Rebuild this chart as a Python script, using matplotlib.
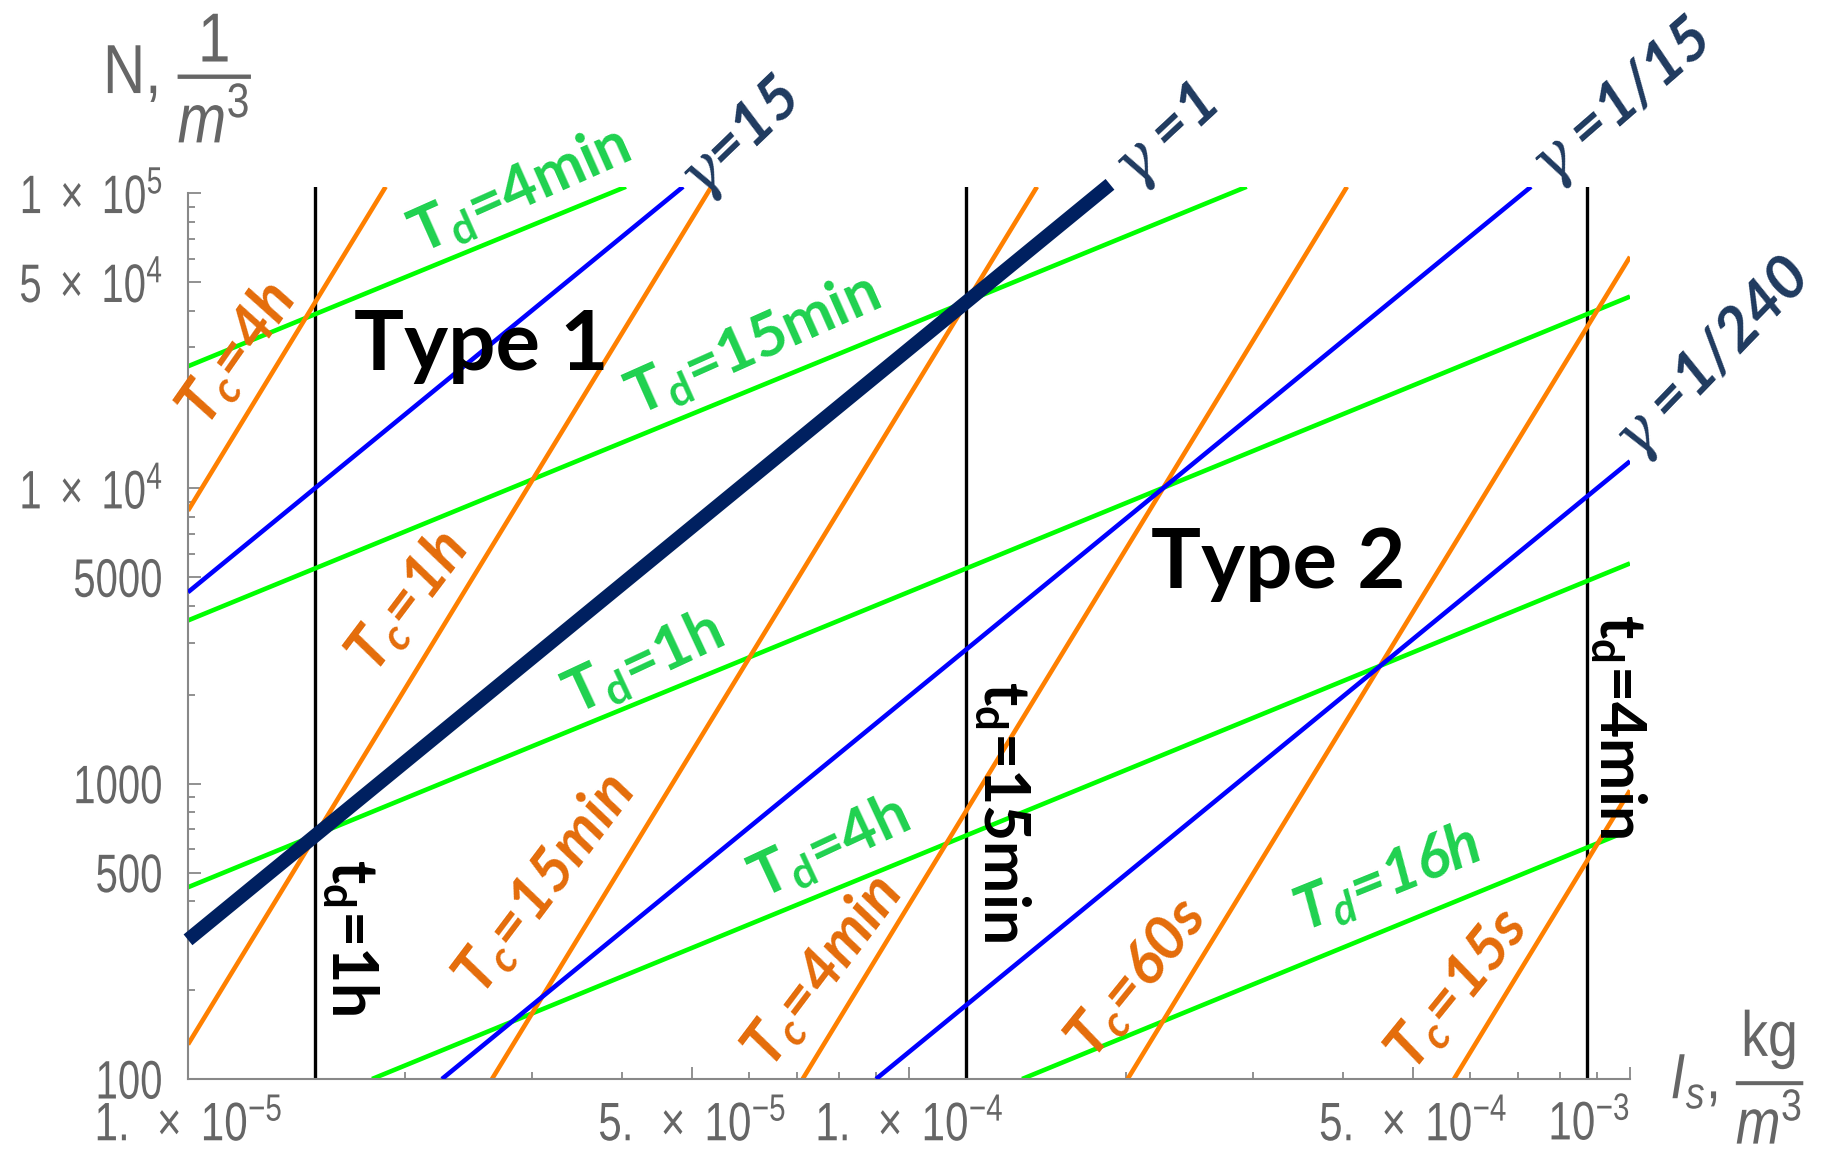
import matplotlib
matplotlib.use('Agg')
import matplotlib.pyplot as plt
from matplotlib import font_manager, patheffects
from matplotlib.transforms import Affine2D, Bbox
from matplotlib.ticker import FixedLocator, NullFormatter

# t_d = const: vertical lines at these I_s values
td_labels = ['1h', '15min', '4min']
td_Is = [1.50e-5, 1.20e-4, 8.73e-4]

# T_c = const (orange), segment ends (I_s, N)
tc_labels = ['4h', '1h', '15min', '4min', '60s', '15s']
tc_I0 = [1.00e-5, 1.00e-5, 2.64e-5, 7.12e-5, 2.01e-4, 5.70e-4]
tc_N0 = [8.40e3, 131, 100, 100, 100, 100]
tc_I1 = [1.88e-5, 5.32e-5, 1.505e-4, 4.05e-4, 1.00e-3, 1.00e-3]
tc_N1 = [1.05e5, 1.05e5, 1.05e5, 1.05e5, 6.08e4, 949]

# T_d = const (green)
Td_labels = ['4min', '15min', '1h', '4h', '16h']
Td_I0 = [1.00e-5, 1.00e-5, 1.00e-5, 1.80e-5, 1.435e-4]
Td_N0 = [2.59e4, 3.57e3, 446, 100, 100]
Td_I1 = [4.05e-5, 2.94e-4, 1.00e-3, 1.00e-3, 1.00e-3]
Td_N1 = [1.05e5, 1.05e5, 4.46e4, 5.57e3, 697]

# gamma = const (blue)
g_labels = ['15', '1/15', '1/240']
g_I0 = [1.00e-5, 2.25e-5, 9.00e-5]
g_N0 = [4.45e3, 100, 100]
g_I1 = [4.86e-5, 7.29e-4, 1.00e-3]
g_N1 = [1.05e5, 1.05e5, 1.235e4]

# gamma = 1 boundary between the two types
g1_Is = [1.00e-5, 1.90e-4]
g1_N = [296, 1.07e5]

x_ticks = [1e-5, 5e-5, 1e-4, 5e-4, 1e-3]
x_ticklabels = [r'$1.\;\times\;10^{-5}$', r'$5.\;\times\;10^{-5}$', r'$1.\;\times\;10^{-4}$',
                r'$5.\;\times\;10^{-4}$', r'$10^{-3}$']
y_ticks = [100, 500, 1000, 5000, 1e4, 5e4, 1e5]
y_ticklabels = ['100', '500', '1000', '5000', r'$1\;\times\;10^{4}$',
                r'$5\;\times\;10^{4}$', r'$1\;\times\;10^{5}$']


class Squeeze(patheffects.AbstractPathEffect):
    """Draw text narrower, keeping the given side of it in place."""

    def __init__(self, sx, anchor='center'):
        super().__init__()
        self.sx = sx
        self.anchor = anchor

    def draw_path(self, renderer, gc, tpath, affine, rgbFace=None):
        ext = tpath.get_extents()
        px = {'left': ext.x0, 'center': 0.5 * (ext.x0 + ext.x1), 'right': ext.x1}[self.anchor]
        squash = Affine2D().translate(-px, 0).scale(self.sx, 1).translate(px, 0)
        renderer.draw_path(gc, tpath, squash + affine, rgbFace)


def squeeze(txt, sx, anchor='center'):
    # narrow glyphs, and report the narrowed box as the text's extent
    txt.set_path_effects([Squeeze(sx, anchor)])
    orig = txt.get_window_extent

    def extent(renderer=None, dpi=None):
        bb = orig(renderer, dpi)
        w = bb.width * sx
        if anchor == 'right':
            x0 = bb.x1 - w
        elif anchor == 'left':
            x0 = bb.x0
        else:
            x0 = 0.5 * (bb.x0 + bb.x1) - 0.5 * w
        return Bbox.from_extents(x0, bb.y0, x0 + w, bb.y1)

    txt.get_window_extent = extent
    return txt


# fonts
names = {f.name for f in font_manager.fontManager.ttflist}
tick_font = 'Liberation Sans Narrow' if 'Liberation Sans Narrow' in names else 'Liberation Sans'
label_font = 'Lato'

plt.rcParams['font.family'] = tick_font
plt.rcParams['mathtext.fontset'] = 'custom'
plt.rcParams['mathtext.rm'] = tick_font
plt.rcParams['mathtext.sf'] = tick_font + ':italic'
plt.rcParams['mathtext.it'] = 'DejaVu Serif:italic'
plt.rcParams['mathtext.bf'] = label_font + ':bold'
plt.rcParams['mathtext.bfit'] = label_font + ':italic:bold'

ORANGE, GREEN, BLUE, NAVY = '#FF8000', '#00FF00', '#0000FF', '#002060'
ORANGE_TXT, GREEN_TXT, BLUE_TXT = '#E46C0A', '#1FD14F', '#1F3A5F'
GREY, GREY_TXT = '#888888', '#666666'

fig = plt.figure(figsize=(18.31, 11.57), dpi=100)
ax = fig.add_axes([0.10268, 0.0674, 0.78755, 0.7712])
ax.set_xscale('log')
ax.set_yscale('log')
ax.set_xlim(1e-5, 1e-3)
ax.set_ylim(100, 1.05e5)

for s in ['top', 'right']:
    ax.spines[s].set_visible(False)
for s in ['left', 'bottom']:
    ax.spines[s].set_color(GREY)
    ax.spines[s].set_linewidth(1.5)
ax.spines['left'].set_bounds(100, 1e5)

ax.xaxis.set_major_locator(FixedLocator(x_ticks))
ax.set_xticklabels(x_ticklabels)
ax.xaxis.set_minor_locator(FixedLocator([m * 10.0 ** e for e in (-5, -4)
                                         for m in (2, 3, 4, 6, 7, 8, 9)]))
ax.xaxis.set_minor_formatter(NullFormatter())
ax.yaxis.set_major_locator(FixedLocator(y_ticks))
ax.set_yticklabels(y_ticklabels)
ax.yaxis.set_minor_locator(FixedLocator([m * 10.0 ** e for e in (2, 3, 4)
                                         for m in (2, 3, 4, 6, 7, 8, 9)]))
ax.yaxis.set_minor_formatter(NullFormatter())
ax.tick_params(which='both', direction='in', color=GREY, width=1.3)
ax.tick_params(which='major', length=9)
ax.tick_params(which='minor', length=5)
ax.tick_params(axis='x', labelsize=39, labelcolor=GREY_TXT, pad=15)
ax.tick_params(axis='y', labelsize=39, labelcolor=GREY_TXT, pad=18)
xlbls = ax.get_xticklabels()
for lbl in xlbls[:-1]:
    squeeze(lbl, 0.78, 'center')
xlbls[-1].set_horizontalalignment('right')
squeeze(xlbls[-1], 0.78, 'right')
for lbl in ax.get_yticklabels():
    squeeze(lbl, 0.74, 'right')

# lines
for x in td_Is:
    ax.axvline(x, color='black', lw=2.4, zorder=2)
for i in range(len(Td_labels)):
    ax.plot([Td_I0[i], Td_I1[i]], [Td_N0[i], Td_N1[i]], color=GREEN, lw=3.3,
            solid_capstyle='butt', zorder=2)
for i in range(len(tc_labels)):
    ax.plot([tc_I0[i], tc_I1[i]], [tc_N0[i], tc_N1[i]], color=ORANGE, lw=3.3,
            solid_capstyle='butt', zorder=2)
for i in range(len(g_labels)):
    ax.plot([g_I0[i], g_I1[i]], [g_N0[i], g_N1[i]], color=BLUE, lw=3.3,
            solid_capstyle='butt', zorder=3)
ax.plot(g1_Is, g1_N, color=NAVY, lw=10, solid_capstyle='butt', clip_on=False, zorder=4)

# labels: (I_s, N, angle)
tc_pos = [(1.17e-5, 2.85e4, 55), (2.02e-5, 4.14e3, 53), (3.12e-5, 457, 53),
          (7.60e-5, 231, 53), (2.08e-4, 219, 51), (5.78e-4, 200, 51)]
for lab, (x, y, r) in zip(tc_labels, tc_pos):
    ax.text(x, y, r'$\mathbfit{T_c}$=' + lab, color=ORANGE_TXT, fontsize=44,
            family=label_font, weight='bold', style='italic', rotation=r,
            rotation_mode='anchor', ha='center', va='center', zorder=6)

Td_pos = [(2.88e-5, 1.02e5, 24), (6.08e-5, 3.06e4, 24), (4.28e-5, 2.55e3, 25),
          (7.75e-5, 606, 25), (4.61e-4, 478, 22)]
Td_italic = [False, False, False, False, True]
for lab, (x, y, r), it in zip(Td_labels, Td_pos, Td_italic):
    sub = r'$\mathbfit{T_d}$=' if it else r'$\mathbf{T_d}$='
    ax.text(x, y, sub + lab, color=GREEN_TXT, fontsize=44, family=label_font,
            weight='bold', style='italic' if it else 'normal', rotation=r,
            rotation_mode='anchor', ha='center', va='center', zorder=6)

g_text = ['15', '1', '1/15', '1/240']
g_pos = [(5.86e-5, 1.51e5, 44), (2.28e-4, 1.53e5, 43), (9.78e-4, 2.01e5, 41),
         (1.31e-3, 2.72e4, 46)]
for lab, (x, y, r) in zip(g_text, g_pos):
    sep = '=' if lab == '15' else ' ='
    ax.text(x, y, r'$\gamma$' + sep + lab, color=BLUE_TXT, fontsize=44,
            family=label_font, weight='bold', style='italic', rotation=r,
            rotation_mode='anchor', ha='center', va='center', zorder=6)

td_pos = [(1.68e-5, 303), (1.345e-4, 803), (9.63e-4, 1.56e3)]
for lab, (x, y) in zip(td_labels, td_pos):
    ax.text(x, y, r'$\mathbf{t_d}$=' + lab, color='black', fontsize=45,
            family=label_font, weight='bold', rotation=-90, rotation_mode='anchor',
            ha='center', va='center', zorder=6)

ax.text(2.55e-5, 3.03e4, 'Type 1', fontsize=60, family=label_font, weight='bold',
        color='black', ha='center', va='center', zorder=6)
ax.text(3.25e-4, 5.53e3, 'Type 2', fontsize=60, family=label_font, weight='bold',
        color='black', ha='center', va='center', zorder=6)

# axis titles
squeeze(fig.text(0.0970, 0.9320, r'N, $\dfrac{1}{\mathsf{m}^3}$', fontsize=50,
                 color=GREY_TXT, ha='center', va='center'), 0.84)
squeeze(fig.text(0.9490, 0.0695, r'$\mathsf{I_s}$, $\dfrac{\mathrm{kg}}{\mathsf{m}^3}$',
                 fontsize=46, color=GREY_TXT, ha='center', va='center'), 0.84)

fig.savefig('out.png', dpi=100, facecolor='white')
